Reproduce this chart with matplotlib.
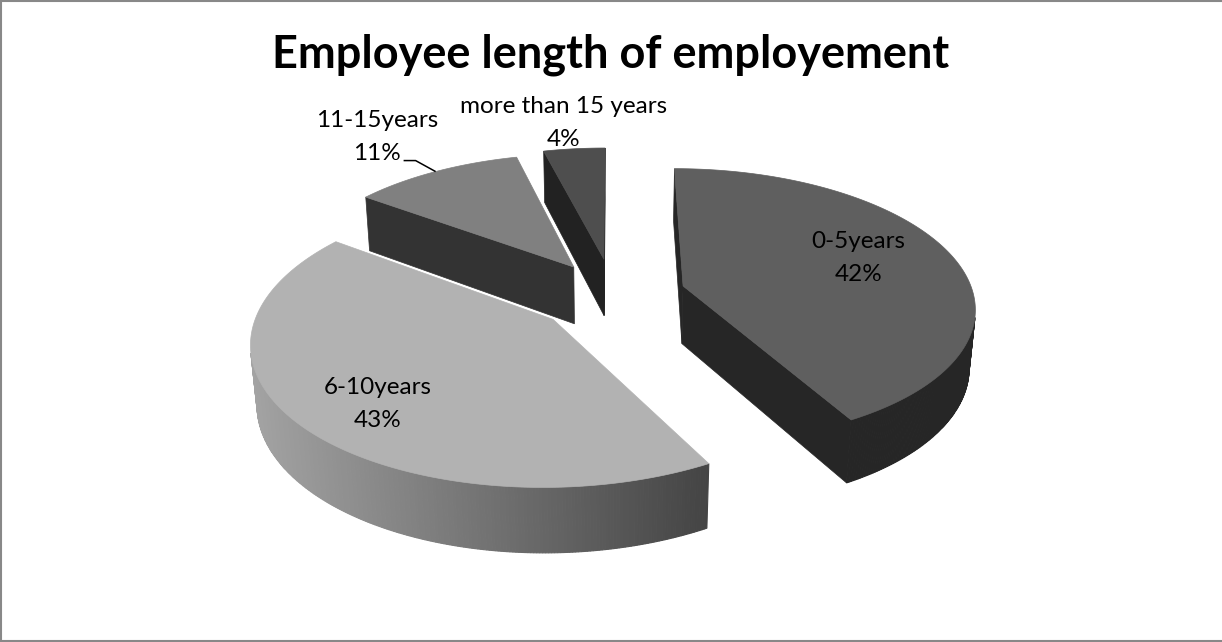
import numpy as np
import matplotlib
matplotlib.use("Agg")
import matplotlib.pyplot as plt
from matplotlib.patches import Polygon

# ---- chart data ----
categories = ["0-5years", "6-10years", "11-15years", "more than 15 years"]
shares = [42, 43, 11, 4]
title = "Employee length of employement"

# ---- styling ----
top_colors = ["#5f5f5f", "#b2b2b2", "#808080", "#4e4e4e"]
wall_shade = [(0.40, 0.40), (0.92, 0.38), (0.40, 0.40), (0.43, 0.43)]  # side brightness (left, right)
explode = [0.25, 0.27, 0.25, 0.27]
label_radius = [0.65, 0.78, 1.38, 1.21]
label_shift = [0.0, -6.6, -2.5, -1.0]        # degrees from slice middle
leader = [False, False, True, False]
FONT = "Lato"
LABEL_SIZE = 17.5
TITLE_SIZE = 32.5

# ---- 3D view ----
ELEV = np.radians(28)
DIST = 6.2
FOCAL = 1800.0
X0, Y0 = 613.4, 294.4
THICK = 0.23
CAM = np.array([0.0, DIST * np.cos(ELEV), DIST * np.sin(ELEV)])


def unit(theta_deg):
    t = np.radians(theta_deg)
    return np.sin(t), -np.cos(t)


def project(u, v, z):
    depth = DIST - v * np.cos(ELEV) - z * np.sin(ELEV)
    sx = FOCAL * u / depth
    sy = FOCAL * (-v * np.sin(ELEV) + z * np.cos(ELEV)) / depth
    return X0 + sx, Y0 - sy


def facing(u, v, z, nu, nv):
    return (CAM[0] - u) * nu + (CAM[1] - v) * nv > 0


def shade(hex_color, k):
    c = np.array(matplotlib.colors.to_rgb(hex_color)) * k
    return tuple(np.clip(c, 0, 1))


fig = plt.figure(figsize=(12.22, 6.42), dpi=100)
ax = fig.add_axes([0, 0, 1, 1])
ax.set_xlim(0, 1222)
ax.set_ylim(642, 0)
ax.axis("off")

total = float(sum(shares))
bounds = np.concatenate([[0.0], np.cumsum(shares)]) / total * 360.0

slices = []
for i in range(len(shares)):
    t0, t1 = bounds[i], bounds[i + 1]
    mid = 0.5 * (t0 + t1)
    du, dv = unit(mid)
    au, av = explode[i] * du, explode[i] * dv
    slices.append((i, t0, t1, mid, au, av))

# paint from back to front
for i, t0, t1, mid, au, av in sorted(slices, key=lambda s: s[5]):
    n = max(8, int((t1 - t0) / 0.5))
    th = np.linspace(t0, t1, n + 1)
    ru, rv = unit(th)
    ru = au + ru
    rv = av + rv
    top_x, top_y = project(ru, rv, 0.0)
    bot_x, bot_y = project(ru, rv, -THICK)
    ax_top = project(au, av, 0.0)
    ax_bot = project(au, av, -THICK)

    xmin, xmax = top_x.min(), top_x.max()
    kl, kr = wall_shade[i]

    def wall_color(x):
        f = 0.0 if xmax == xmin else (x - xmin) / (xmax - xmin)
        return shade(top_colors[i], kl + (kr - kl) * f)

    # flat radial walls
    for theta, sgn, idx in [(t0, -1, 0), (t1, 1, -1)]:
        t = np.radians(theta)
        nu, nv = sgn * np.cos(t), sgn * np.sin(t)
        pu = au + 0.5 * unit(theta)[0]
        pv = av + 0.5 * unit(theta)[1]
        if facing(pu, pv, 0, nu, nv):
            pts = [ax_top, (top_x[idx], top_y[idx]), (bot_x[idx], bot_y[idx]), ax_bot]
            col = wall_color(np.mean([p[0] for p in pts]))
            ax.add_patch(Polygon(pts, closed=True, facecolor=col, edgecolor=col,
                                 linewidth=0.5, zorder=2))

    # curved outer wall
    for k in range(n):
        tm = 0.5 * (th[k] + th[k + 1])
        nu, nv = unit(tm)
        if facing(au + nu, av + nv, 0, nu, nv):
            pts = [(top_x[k], top_y[k]), (top_x[k + 1], top_y[k + 1]),
                   (bot_x[k + 1], bot_y[k + 1]), (bot_x[k], bot_y[k])]
            col = wall_color(0.25 * sum(p[0] for p in pts))
            ax.add_patch(Polygon(pts, closed=True, facecolor=col, edgecolor=col,
                                 linewidth=0.8, zorder=2))

    # top face
    pts = [ax_top] + list(zip(top_x, top_y))
    ax.add_patch(Polygon(pts, closed=True, facecolor=top_colors[i],
                         edgecolor=top_colors[i], linewidth=0.5, zorder=2))

# data labels
for i, t0, t1, mid, au, av in slices:
    lu, lv = unit(mid + label_shift[i])
    lx, ly = project(au + label_radius[i] * lu, av + label_radius[i] * lv, 0.0)
    pct = f"{shares[i] / total:.0%}"
    ax.text(lx, ly - 16.5, categories[i], ha="center", va="baseline",
            fontsize=LABEL_SIZE, family=FONT, color="black", zorder=5)
    ax.text(lx, ly + 16.5, pct, ha="center", va="baseline",
            fontsize=LABEL_SIZE, family=FONT, color="black", zorder=5)
    if leader[i]:
        mu, mv = unit(mid)
        ex, ey = project(au + mu, av + mv, 0.0)
        ax.plot([ex, ex - 20, ex - 32], [ey, ey - 11, ey - 11], color="black",
                linewidth=1.1, zorder=4, solid_capstyle="butt")

ax.text(611, 68, title, ha="center", va="baseline", fontsize=TITLE_SIZE,
        fontweight="bold", family=FONT, color="black")

# outer frame
frame = dict(color="#888888", linewidth=1.5, zorder=6)
ax.plot([0.5, 1222], [0.8, 0.8], **frame)
ax.plot([0.8, 0.8], [0, 642], **frame)
ax.plot([0, 1222], [641.2, 641.2], **frame)

fig.savefig("out.png", dpi=100)
